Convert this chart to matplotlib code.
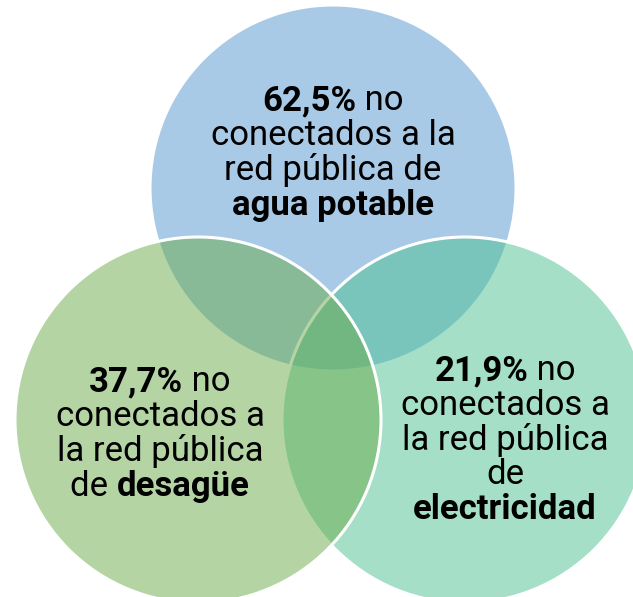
import matplotlib.pyplot as plt
from matplotlib.patches import Circle
from matplotlib.offsetbox import TextArea, HPacker, VPacker, AnnotationBbox

# datos: porcentaje de hogares no conectados a cada red
servicios = ["agua potable", "desagüe", "electricidad"]
porcentajes = ["62,5%", "37,7%", "21,9%"]
colores = ["#5597D1", "#6BAB4B", "#4DC191"]

# lineas de texto de cada circulo: lista de (texto, negrita)
lineas = [
    [[(porcentajes[0], True), (" no", False)],
     [("conectados a la", False)],
     [("red pública de", False)],
     [(servicios[0], True)]],
    [[(porcentajes[1], True), (" no", False)],
     [("conectados a", False)],
     [("la red pública", False)],
     [("de ", False), (servicios[1], True)]],
    [[(porcentajes[2], True), (" no", False)],
     [("conectados a", False)],
     [("la red pública", False)],
     [("de", False)],
     [(servicios[2], True)]],
]

centros = [(333, 188), (198, 420), (465, 420)]
radio = 183
textos_xy = [(333, 153), (160, 434), (505, 440)]
# orden de dibujo: azul, verde agua, verde
orden = [0, 2, 1]

fig = plt.figure(figsize=(6.33, 5.97), dpi=100)
ax = fig.add_axes([0, 0, 1, 1])
ax.set_xlim(0, 633)
ax.set_ylim(597, 0)
ax.set_aspect("equal")
ax.axis("off")

for i in orden:
    c = Circle(centros[i], radio, facecolor=colores[i], alpha=0.5,
               edgecolor="none", zorder=1 + orden.index(i))
    ax.add_patch(c)
    borde = Circle(centros[i], radio, facecolor="none", edgecolor="white",
                   lw=2.2, zorder=1.5 + orden.index(i))
    ax.add_patch(borde)

for i in range(3):
    filas = []
    for linea in lineas[i]:
        piezas = [TextArea(t, textprops=dict(fontsize=25, family="Roboto",
                                             fontweight="bold" if b else "normal",
                                             color="black"))
                  for t, b in linea]
        filas.append(HPacker(children=piezas, align="baseline", pad=0, sep=0))
    caja = VPacker(children=filas, align="center", pad=0, sep=1)
    ab = AnnotationBbox(caja, textos_xy[i], frameon=False,
                        box_alignment=(0.5, 0.5), zorder=10)
    ax.add_artist(ab)

fig.savefig("out.png", dpi=100)
